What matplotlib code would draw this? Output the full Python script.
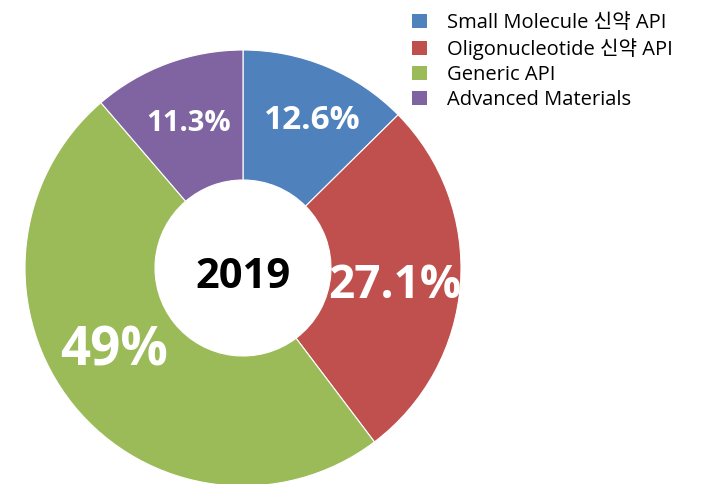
import numpy as np
import matplotlib
matplotlib.use('Agg')
import matplotlib.pyplot as plt
from matplotlib.patches import Patch

categories = ['Small Molecule 신약 API', 'Oligonucleotide 신약 API', 'Generic API', 'Advanced Materials']
shares = [12.6, 27.1, 49, 11.3]
year = '2019'

colors = ['#4F81BD', '#C0504D', '#9BBB59', '#8064A2']
label_sizes = [24, 33, 38, 21]
label_radius = [0.765, 0.70, 0.69, 0.725]
label_shift = [-2, -0.5, -8, 0]   # degrees

plt.rcParams['font.family'] = ['Open Sans', 'Noto Sans CJK KR', 'DejaVu Sans']

W, H = 701, 484
fig = plt.figure(figsize=(W / 100, H / 100), dpi=100)
cx, cy, R = 243, 268, 218
ax = fig.add_axes([(cx - R) / W, (H - cy - R) / H, 2 * R / W, 2 * R / H])

wedges, _ = ax.pie(shares, colors=colors, startangle=90, counterclock=False,
                   radius=1, wedgeprops=dict(width=1 - 88 / 218, edgecolor='white', linewidth=0.8))

for w, v, fs, r, sh in zip(wedges, shares, label_sizes, label_radius, label_shift):
    mid = np.deg2rad((w.theta1 + w.theta2) / 2 + sh)
    ax.text(r * np.cos(mid), r * np.sin(mid), f'{v:g}%', ha='center', va='center_baseline',
            color='white', fontsize=fs, fontweight='bold')

ax.text(0, -0.02, year, ha='center', va='center_baseline', fontsize=30, fontweight='bold', color='black')
ax.set_xlim(-1, 1)
ax.set_ylim(-1, 1)
ax.set_aspect('equal')
ax.axis('off')

handles = [Patch(facecolor=c, edgecolor='none') for c in colors]
fig.legend(handles, categories, loc='upper left', bbox_to_anchor=(408 / W, 1 - 9 / H),
           frameon=False, fontsize=14.5, handlelength=0.72, handleheight=0.72,
           handletextpad=1.0, labelspacing=0.25, borderaxespad=0, borderpad=0.2)

fig.savefig('out.png', dpi=100)
